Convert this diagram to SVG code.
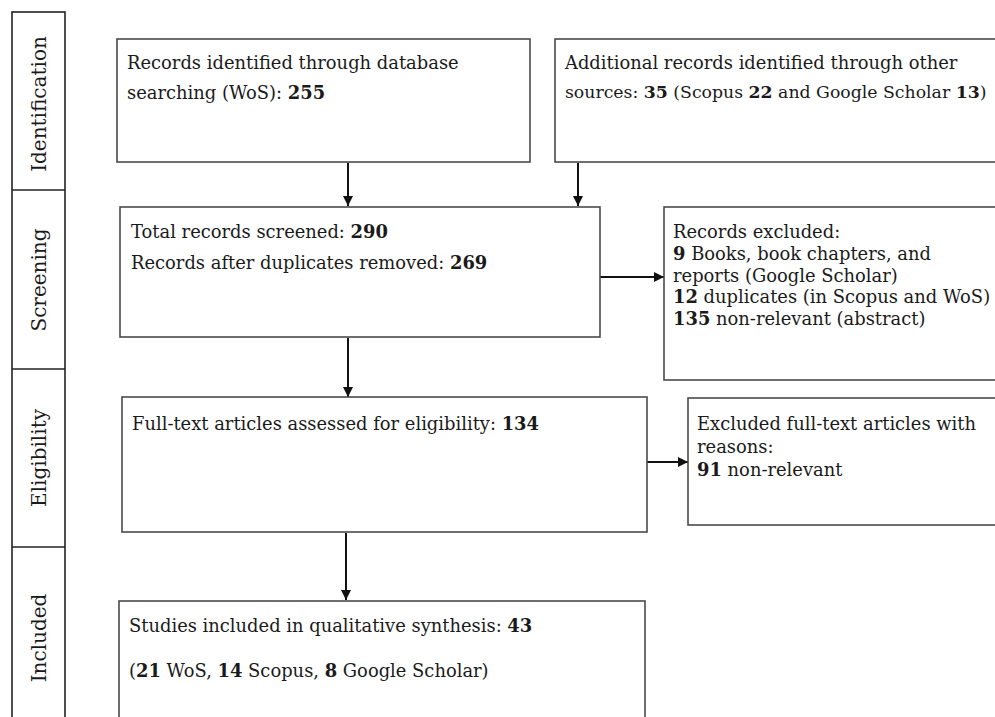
<svg xmlns="http://www.w3.org/2000/svg" width="995" height="717" viewBox="0 0 995 717">
<style>
.box{fill:#fff;stroke:#4a4a4a;stroke-width:1.6}
.col{fill:none;stroke:#222;stroke-width:1.6}
.t{font-family:"DejaVu Serif","Liberation Serif",serif;font-size:17.9px;fill:#1a1a1a}
.s{font-size:17.3px}
.b{font-weight:bold}
.lab{font-family:"DejaVu Serif","Liberation Serif",serif;font-size:20px;fill:#1a1a1a;text-anchor:middle}
.c{stroke:#111;stroke-width:2;fill:none;marker-end:url(#ah)}
</style>
<defs>
<marker id="ah" viewBox="0 0 10 10" refX="10" refY="5" markerWidth="10" markerHeight="10" markerUnits="userSpaceOnUse" orient="auto">
<path d="M0,0 L10,5 L0,10 z" fill="#111"/>
</marker>
</defs>
<rect width="995" height="717" fill="#fff"/>
<g id="phases">
<rect class="col" x="12" y="12" width="53" height="720"/>
<line class="col" x1="12" y1="190" x2="65" y2="190"/>
<line class="col" x1="12" y1="369" x2="65" y2="369"/>
<line class="col" x1="12" y1="547" x2="65" y2="547"/>
<text class="lab" transform="translate(46,104) rotate(-90)">Identification</text>
<text class="lab" transform="translate(46,280) rotate(-90)">Screening</text>
<text class="lab" transform="translate(46,458) rotate(-90)">Eligibility</text>
<text class="lab" transform="translate(46,638) rotate(-90)">Included</text>
</g>
<g id="connectors">
<line class="c" x1="348" y1="163" x2="348" y2="206"/>
<line class="c" x1="578" y1="163" x2="578" y2="206"/>
<line class="c" x1="600" y1="277" x2="664" y2="277"/>
<line class="c" x1="348" y1="338" x2="348" y2="397"/>
<line class="c" x1="647" y1="462" x2="688" y2="462"/>
<line class="c" x1="346" y1="533" x2="346" y2="600"/>
</g>
<g id="n1">
<rect class="box" x="117" y="39" width="413" height="123"/>
<text class="t" x="127" y="69">Records identified through database</text>
<text class="t" x="127" y="99">searching (WoS): <tspan class="b">255</tspan></text>
</g>
<g id="n2">
<rect class="box" x="555" y="39" width="450" height="123"/>
<text class="t" x="565" y="69">Additional records identified through other</text>
<text class="t s" x="565" y="98">sources: <tspan class="b">35</tspan> (Scopus <tspan class="b">22</tspan> and Google Scholar <tspan class="b">13</tspan>)</text>
</g>
<g id="n3">
<rect class="box" x="120" y="207" width="480" height="130"/>
<text class="t" x="131" y="238">Total records screened: <tspan class="b">290</tspan></text>
<text class="t" x="131" y="269">Records after duplicates removed: <tspan class="b">269</tspan></text>
</g>
<g id="n4">
<rect class="box" x="664" y="207" width="345" height="173"/>
<text class="t" x="673" y="238">Records excluded:</text>
<text class="t" x="673" y="260"><tspan class="b">9</tspan> Books, book chapters, and</text>
<text class="t" x="673" y="282">reports (Google Scholar)</text>
<text class="t" x="673" y="303"><tspan class="b">12</tspan> duplicates (in Scopus and WoS)</text>
<text class="t" x="673" y="325"><tspan class="b">135</tspan> non-relevant (abstract)</text>
</g>
<g id="n5">
<rect class="box" x="122" y="397" width="525" height="135"/>
<text class="t" x="132" y="430">Full-text articles assessed for eligibility: <tspan class="b">134</tspan></text>
</g>
<g id="n6">
<rect class="box" x="688" y="398" width="315" height="127"/>
<text class="t" x="697" y="430">Excluded full-text articles with</text>
<text class="t" x="697" y="453">reasons:</text>
<text class="t" x="697" y="476"><tspan class="b">91</tspan> non-relevant</text>
</g>
<g id="n7">
<rect class="box" x="119" y="601" width="526" height="130"/>
<text class="t" x="129" y="632">Studies included in qualitative synthesis: <tspan class="b">43</tspan></text>
<text class="t" x="129" y="677">(<tspan class="b">21</tspan> WoS, <tspan class="b">14</tspan> Scopus, <tspan class="b">8</tspan> Google Scholar)</text>
</g>
</svg>
